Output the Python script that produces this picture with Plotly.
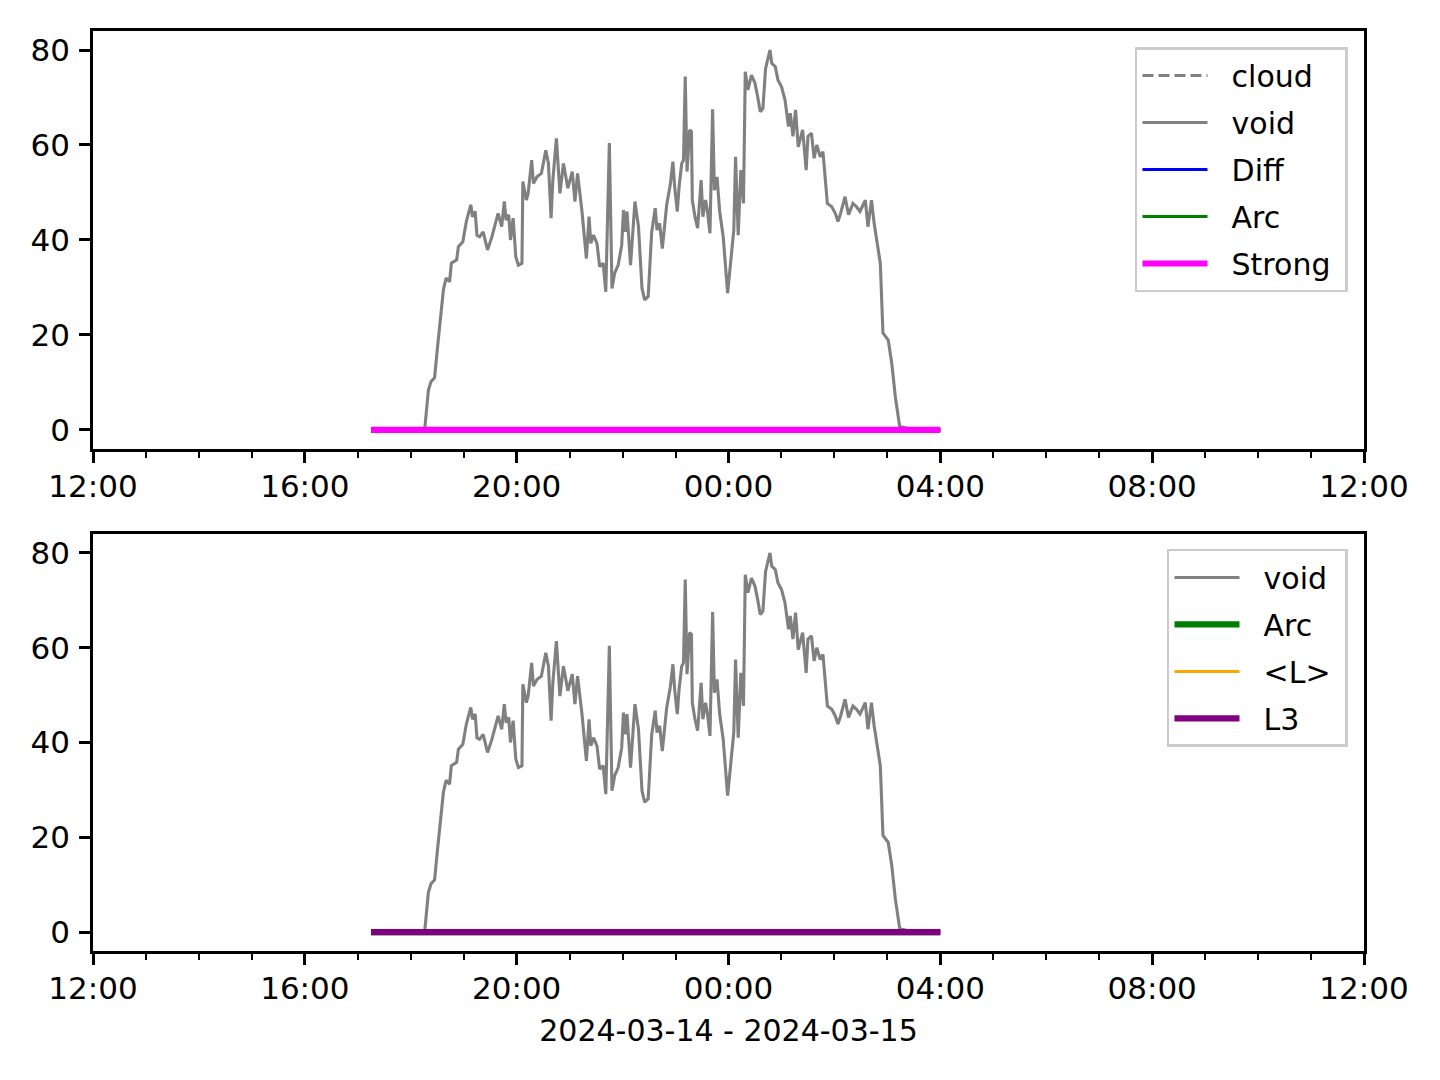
import plotly.graph_objects as go

# ---------------- data ----------------
void_clock = ["17:15", "18:10", "18:16", "18:20", "18:23", "18:27", "18:30", "18:33", "18:37", "18:40",
              "18:44", "18:46", "18:52", "18:54", "18:59", "19:03", "19:08", "19:10", "19:13",
              "19:15", "19:18", "19:22", "19:27", "19:32", "19:37", "19:39", "19:43", "19:46",
              "19:48", "19:51", "19:53", "19:56", "19:59", "20:02", "20:06", "20:07", "20:11",
              "20:13", "20:17", "20:19", "20:23", "20:28", "20:33", "20:36", "20:39", "20:41",
              "20:45", "20:49", "20:53", "20:58", "21:03", "21:06", "21:09", "21:14", "21:19",
              "21:22", "21:24", "21:27", "21:31", "21:34", "21:38", "21:41", "21:45", "21:48",
              "21:51", "21:55", "21:59", "22:01", "22:03", "22:05", "22:09", "22:14", "22:18",
              "22:22", "22:25", "22:29", "22:33", "22:37", "22:39", "22:42", "22:45", "22:50",
              "22:54", "22:57", "22:59", "23:02", "23:04", "23:07", "23:09", "23:11", "23:13",
              "23:16", "23:18", "23:19", "23:22", "23:25", "23:29", "23:31", "23:34", "23:36",
              "23:39", "23:40", "23:42", "23:44", "23:47", "23:50", "23:54", "23:59", "00:04",
              "00:06", "00:08", "00:11", "00:14", "00:17", "00:19", "00:22", "00:26", "00:30",
              "00:33", "00:36", "00:39", "00:42", "00:47", "00:49", "00:53", "00:56", "01:00",
              "01:04", "01:08", "01:10", "01:13", "01:16", "01:19", "01:24", "01:28", "01:30",
              "01:34", "01:37", "01:40", "01:44", "01:47", "01:50", "01:52", "01:57", "02:01",
              "02:04", "02:07", "02:12", "02:16", "02:21", "02:25", "02:29", "02:35", "02:38",
              "02:42", "02:45", "02:48", "02:52", "02:55", "03:01", "03:05", "03:09", "03:14",
              "03:30", "04:00"]
void_values = [0, 0, 0.5, 8.4, 10.2, 11.0, 16.8, 22.5, 29.5, 32.0,
               31.2, 35.1, 35.8, 38.6, 39.6, 43.9, 47.4, 44.9, 46.0,
               41.0, 40.7, 41.7, 37.9, 40.7, 44.6, 45.6, 42.8, 48.1,
               44.2, 45.3, 40.0, 44.6, 36.5, 34.7, 35.1, 52.3, 48.4,
               49.8, 56.8, 51.9, 53.3, 54.0, 58.9, 56.1, 44.6, 52.6,
               61.4, 49.8, 56.1, 50.9, 54.4, 48.1, 54.0, 46.0, 36.1,
               44.9, 39.3, 41.0, 39.3, 34.4, 35.1, 29.1, 60.4, 29.8,
               33.0, 34.7, 38.9, 46.3, 41.7, 46.0, 34.7, 48.1, 42.8,
               29.8, 27.4, 28.1, 41.7, 46.7, 42.1, 43.5, 38.2, 47.4,
               51.6, 56.5, 51.2, 46.0, 51.2, 56.1, 56.8, 74.4, 54.4,
               63.2, 62.8, 48.4, 44.9, 42.5, 52.6, 44.9, 48.4, 46.3,
               41.4, 51.6, 67.5, 50.5, 53.3, 46.0, 40.7, 28.8, 39.3,
               42.1, 57.5, 41.0, 54.7, 47.7, 75.4, 71.6, 74.7, 73.0,
               70.2, 67.0, 67.7, 76.1, 80.0, 77.2, 76.5, 73.7, 72.3,
               69.5, 63.9, 66.7, 61.8, 67.4, 59.6, 63.2, 54.7, 61.8,
               62.5, 57.2, 60.0, 57.5, 58.6, 52.6, 47.7, 47.0, 45.6,
               43.9, 45.6, 49.1, 45.3, 47.7, 47.0, 46.0, 48.4, 42.8,
               48.4, 43.5, 40.0, 35.1, 20.4, 18.9, 14.0, 7.0, 0.7,
               0, 0]

flat_clock = ["17:15", "04:00"]
cloud_values = [0, 0]
diff_values = [0, 0]
arc_values = [0, 0]
strong_values = [0, 0]
meanL_values = [0, 0]
l3_values = [0, 0]

x_start, x_end = "2024-03-14 12:00", "2024-03-15 12:00"
x_title = "2024-03-14 - 2024-03-15"
y_ticks = [0, 20, 40, 60, 80]


def stamp(clock):
    h = int(clock.split(":")[0])
    day = "2024-03-14" if h >= 12 else "2024-03-15"
    return f"{day} {clock}"


void_time = [stamp(c) for c in void_clock]
flat_time = [stamp(c) for c in flat_clock]

# ---------------- styling ----------------
FONT = "DejaVu Sans"
FS = 31
GRAY = "#808080"
PAD = "\u00a0\u00a0"

fig = go.Figure()

def add(x, y, name, color, width, xa, ya, legend, dash="solid"):
    fig.add_trace(go.Scatter(
        x=x, y=y, mode="lines", name=PAD + name + "\u00a0",
        line=dict(color=color, width=width, dash=dash),
        xaxis=xa, yaxis=ya, legend=legend, legendgroup=legend + name,
        hoverinfo="skip"))

# top panel
add(flat_time, cloud_values, "cloud", GRAY, 3.1, "x", "y", "legend", dash="11px,5px")
add(void_time, void_values, "void", GRAY, 3.1, "x", "y", "legend")
add(flat_time, diff_values, "Diff", "#0000ff", 3.1, "x", "y", "legend")
add(flat_time, arc_values, "Arc", "#008000", 3.1, "x", "y", "legend")
add(flat_time, strong_values, "Strong", "#ff00ff", 6.2, "x", "y", "legend")

# bottom panel
add(void_time, void_values, "void", GRAY, 3.1, "x2", "y2", "legend2")
add(flat_time, arc_values, "Arc", "#008000", 6.2, "x2", "y2", "legend2")
add(flat_time, meanL_values, "<L>", "#ffa500", 3.1, "x2", "y2", "legend2")
add(flat_time, l3_values, "L3", "#800080", 6.2, "x2", "y2", "legend2")

xcommon = dict(
    type="date", range=[x_start, x_end], tick0=x_start, dtick=4 * 3600000,
    tickformat="%H:%M", ticks="outside", ticklen=11, tickwidth=2.5, tickcolor="black",
    minor=dict(dtick=3600000, ticks="outside", ticklen=6, tickwidth=2, tickcolor="black"),
    showline=True, linecolor="black", linewidth=2.5, mirror=True,
    showgrid=False, zeroline=False, ticklabelstandoff=-3,
    tickfont=dict(family=FONT, size=FS, color="black"),
)
ycommon = dict(
    range=[-4, 84], tickvals=y_ticks, ticks="outside", ticklen=11, tickwidth=2.5,
    tickcolor="black", showline=True, linecolor="black", linewidth=2.5, mirror=True,
    showgrid=False, zeroline=False, ticklabelstandoff=3,
    tickfont=dict(family=FONT, size=FS, color="black"),
)

legcommon = dict(
    xref="paper", yref="paper", xanchor="right", yanchor="top",
    bgcolor="rgba(255,255,255,0.8)", bordercolor="#cccccc", borderwidth=2.5,
    font=dict(family=FONT, size=FS - 1, color="black"),
    itemwidth=65, tracegroupgap=5, traceorder="grouped",
)

fig.update_layout(
    width=1440, height=1080,
    margin=dict(l=85, r=84, t=23, b=137),
    paper_bgcolor="white", plot_bgcolor="white",
    font=dict(family=FONT, size=FS, color="black"),
    xaxis=dict(domain=[0, 1], anchor="y", **xcommon),
    yaxis=dict(domain=[0.5457, 1.0], anchor="x", **ycommon),
    xaxis2=dict(domain=[0, 1], anchor="y2",
                title=dict(text=x_title, standoff=16,
                           font=dict(family=FONT, size=FS - 1, color="black")),
                **xcommon),
    yaxis2=dict(domain=[0, 0.4533], anchor="x2", **ycommon),
    legend=dict(x=0.9874, y=0.9826, **legcommon),
    legend2=dict(x=0.9874, y=0.437, **legcommon),
    showlegend=True,
)

fig.write_html("out.html")
